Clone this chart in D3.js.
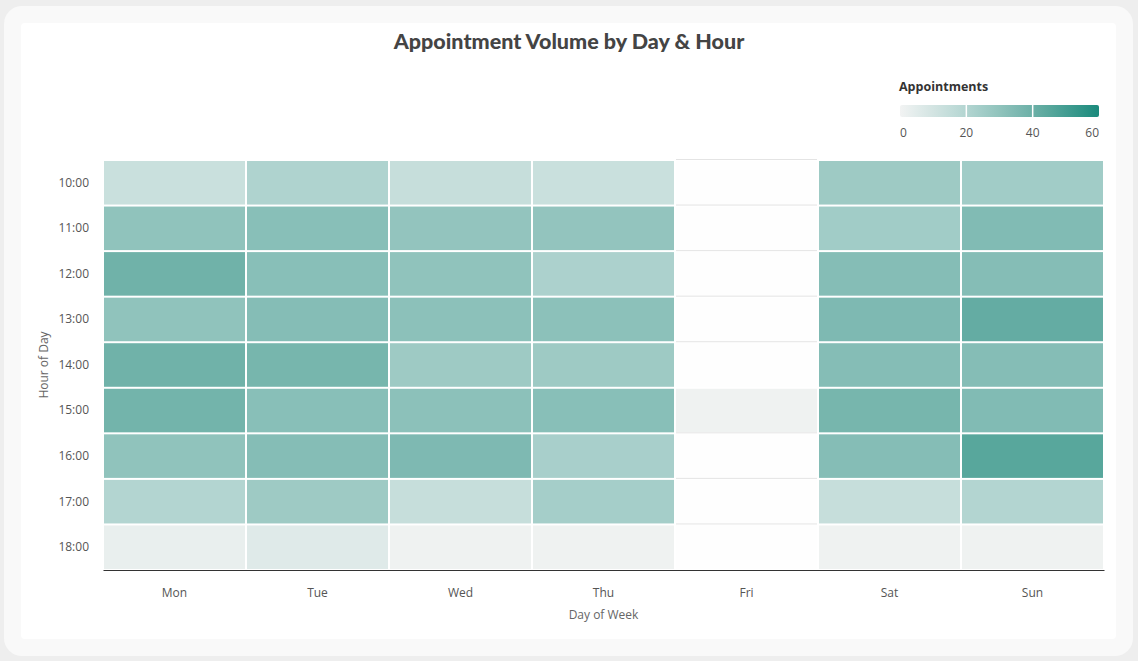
<!DOCTYPE html>
<html>
<head>
<meta charset="utf-8">
<script src="https://cdn.jsdelivr.net/npm/d3@7"></script>
<style>
  html, body { margin: 0; padding: 0; background: #eeeeee; }
  svg { display: block; }
</style>
</head>
<body>
<svg id="chart" width="1138" height="661"></svg>
<script>
const days = ["Mon", "Tue", "Wed", "Thu", "Fri", "Sat", "Sun"];
const hours = ["10:00", "11:00", "12:00", "13:00", "14:00", "15:00", "16:00", "17:00", "18:00"];
// values per day, in hour order (null = no data)
const monValues = [13, 30, 39, 30, 39, 38, 30, 20, 3];
const tueValues = [21, 32, 32, 33, 37, 32, 33, 26, 6];
const wedValues = [14, 29, 30, 31, 26, 31, 35, 14, 1];
const thuValues = [13, 29, 22, 31, 26, 32, 23, 24, 1];
const friValues = [null, null, null, null, null, 1, null, null, null];
const satValues = [26, 25, 33, 35, 33, 37, 33, 14, 1];
const sunValues = [25, 34, 33, 42, 33, 34, 45, 20, 1];
const legendTicks = [0, 20, 40, 60];
const titleText = "Appointment Volume by Day & Hour";
const legendTitle = "Appointments";
const xTitle = "Day of Week";
const yTitle = "Hour of Day";

const seriesByDay = [monValues, tueValues, wedValues, thuValues, friValues, satValues, sunValues];
const cells = [];
days.forEach((d, i) => hours.forEach((h, j) => cells.push({ day: d, hour: h, value: seriesByDay[i][j] })));

const svg = d3.select("#chart");

// card
svg.append("rect").attr("x", 4).attr("y", 6).attr("width", 1129).attr("height", 650)
  .attr("rx", 18).attr("fill", "#f9f9f9");
svg.append("rect").attr("x", 21).attr("y", 23).attr("width", 1095).attr("height", 616)
  .attr("rx", 4).attr("fill", "#ffffff");

const font = "'Open Sans', 'Noto Sans', sans-serif";

svg.append("text").attr("x", 569).attr("y", 49).attr("text-anchor", "middle")
  .attr("font-family", "Lato, 'Open Sans', sans-serif").attr("font-weight", 900)
  .attr("font-size", 21.5).attr("fill", "#444").text(titleText);

const m = { left: 103, right: 1104, top: 160, bottom: 570 };
const x = d3.scaleBand().domain(days).range([m.left, m.right]);
const y = d3.scaleBand().domain(hours).range([m.top, m.bottom]);

const color = d3.scaleLinear().domain([0, 20, 40, 60])
  .range(["#f2f3f3", "#b3d5d1", "#6cb0a7", "#1a8a7c"]).clamp(true);

const g = svg.append("g");
g.selectAll("rect.cell").data(cells).join("rect").attr("class", "cell")
  .attr("x", d => x(d.day) + 1).attr("y", d => y(d.hour) + 1)
  .attr("width", x.bandwidth() - 2).attr("height", y.bandwidth() - 2)
  .attr("fill", d => d.value == null ? "#fefefe" : color(d.value));

g.selectAll("line.nullsep").data(cells.filter(d => d.value == null)).join("line")
  .attr("class", "nullsep")
  .attr("x1", d => x(d.day) + 1).attr("x2", d => x(d.day) + x.bandwidth() - 1)
  .attr("y1", d => y(d.hour) - 0.5).attr("y2", d => y(d.hour) - 0.5)
  .attr("stroke", "#e4e4e4").attr("stroke-width", 1);

// x axis
const xAxis = svg.append("g").attr("transform", `translate(0,${m.bottom})`)
  .call(d3.axisBottom(x).tickSize(0).tickPadding(18));
xAxis.select(".domain").attr("stroke", "#333").attr("stroke-width", 1.2);
xAxis.selectAll("text").attr("font-family", font).attr("font-size", 12).attr("fill", "#555");

// y axis
const yAxis = svg.append("g").attr("transform", `translate(${m.left},0)`)
  .call(d3.axisLeft(y).tickSize(0).tickPadding(14));
yAxis.select(".domain").remove();
yAxis.selectAll("text").attr("font-family", font).attr("font-size", 12).attr("fill", "#555");

svg.append("text").attr("x", (m.left + m.right) / 2).attr("y", 619).attr("text-anchor", "middle")
  .attr("font-family", font).attr("font-size", 12).attr("fill", "#666").text(xTitle);
svg.append("text").attr("transform", `translate(48,${(m.top + m.bottom) / 2}) rotate(-90)`)
  .attr("text-anchor", "middle").attr("font-family", font).attr("font-size", 12)
  .attr("fill", "#666").text(yTitle);

// legend
const lx = d3.scaleLinear().domain([0, 60]).range([900, 1099]);
const defs = svg.append("defs");
const grad = defs.append("linearGradient").attr("id", "lg");
d3.range(0, 61, 5).forEach(v => grad.append("stop")
  .attr("offset", (v / 60 * 100) + "%").attr("stop-color", color(v)));
svg.append("text").attr("x", 899).attr("y", 91).attr("font-family", font)
  .attr("font-weight", 700).attr("font-size", 12.5).attr("fill", "#333").text(legendTitle);
svg.append("rect").attr("x", lx(0)).attr("y", 105).attr("width", lx(60) - lx(0)).attr("height", 12)
  .attr("rx", 2).attr("fill", "url(#lg)");
svg.selectAll("line.lt").data(legendTicks.slice(1, -1)).join("line").attr("class", "lt")
  .attr("x1", d => lx(d)).attr("x2", d => lx(d)).attr("y1", 105).attr("y2", 117)
  .attr("stroke", "#fff").attr("stroke-width", 1.5);
svg.selectAll("text.ltl").data(legendTicks).join("text").attr("class", "ltl")
  .attr("x", d => lx(d)).attr("y", 137)
  .attr("text-anchor", (d, i) => i === 0 ? "start" : (i === legendTicks.length - 1 ? "end" : "middle"))
  .attr("font-family", font).attr("font-size", 12).attr("fill", "#555").text(d => d);
</script>
</body>
</html>
